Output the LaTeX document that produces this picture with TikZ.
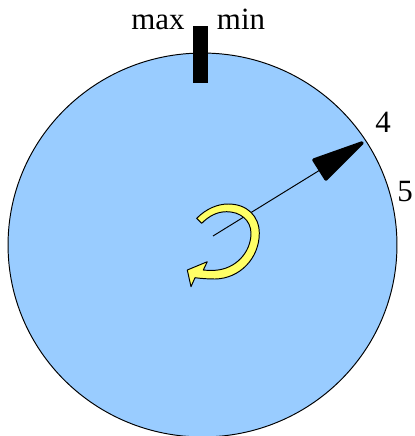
\documentclass[tikz,border=0pt]{standalone}
\usepackage{fontspec}
\setmainfont{Liberation Serif}
\usepackage{xcolor}
\usepackage{tikz}
\usetikzlibrary{calc}
\definecolor{dialblue}{HTML}{99CCFF}
\definecolor{knobyellow}{HTML}{FFFF66}
\tikzset{
  lbl/.style={font=\fontsize{17.6pt}{20pt}\selectfont,inner sep=0pt,text=black,anchor=base},
  thinline/.style={draw=black,line width=0.55pt}
}
\begin{document}
\begin{tikzpicture}[x=0.02cm,y=-0.02cm]
\useasboundingbox (0,0) rectangle (414,436);
\fill[white] (0,0) rectangle (414,436);
\draw[thinline,fill=dialblue] (202.5,245) ellipse (3.89cm and 3.84cm);
\fill[black] (193,26) rectangle (208,83);
\coordinate (hub) at (213,236);
\coordinate (wedge) at (320,170);
\draw[thinline] (hub) -- (wedge);
\fill[black,draw=black,line width=2pt,line join=round] (362,143)--(314,160)--(326,179)--cycle;
\draw[thinline,fill=knobyellow,line join=round] (196.7,218.3) .. controls (206,209) and (217,204) .. (228.3,204)
  .. controls (247,204) and (259.3,216) .. (259.3,233.3)
  .. controls (259.3,258) and (240,278.6) .. (215,279)
  .. controls (208,279) and (201,278.5) .. (195,277.7)
  -- (191,286.7) -- (187.3,270) -- (207.3,261.7) -- (203.3,270)
  .. controls (207,270.4) and (211,270.5) .. (215,270.3)
  .. controls (236,269) and (251,252) .. (251,233.3)
  .. controls (251,220) and (240,211.7) .. (226.7,211.7)
  .. controls (217,211.7) and (209,216) .. (201.7,223.3) -- cycle;
\node[lbl] (maxlbl) at (158,30) {max};
\node[lbl] (minlbl) at (241,30) {min};
\node[lbl] (four) at (383,132) {4};
\node[lbl] (five) at (405,201.5) {5};
\end{tikzpicture}
\end{document}
